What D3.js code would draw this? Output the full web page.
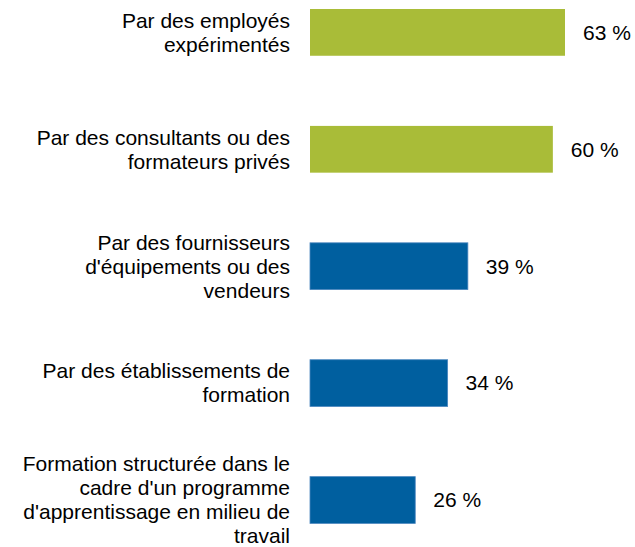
<!DOCTYPE html>
<html>
<head>
<meta charset="utf-8">
<script src="https://cdn.jsdelivr.net/npm/d3@7"></script>
<style>
  html, body { margin: 0; padding: 0; background: #fff; }
  svg { display: block; }
  text { font-family: "Liberation Sans", Arial, sans-serif; fill: #000; }
</style>
</head>
<body>
<svg id="chart" width="635" height="547"></svg>
<script>
// Training sources, each label split into its display lines
const categories = [
  ["Par des employés", "expérimentés"],
  ["Par des consultants ou des", "formateurs privés"],
  ["Par des fournisseurs", "d'équipements ou des", "vendeurs"],
  ["Par des établissements de", "formation"],
  ["Formation structurée dans le", "cadre d'un programme", "d'apprentissage en milieu de", "travail"]
];
const values = [63, 60, 39, 34, 26];
const colors = ["#a9bc38", "#a9bc38", "#005f9f", "#005f9f", "#005f9f"];

const svg = d3.select("#chart");
const keys = categories.map((c, i) => i);

const x = d3.scaleLinear().domain([0, 63]).range([310, 565]);
const y = d3.scaleBand().domain(keys).range([0, 532.4]).paddingInner(0.6).paddingOuter(0.077);

const fontSize = 21;
const lineH = 24;

const rows = svg.selectAll("g.row").data(keys).join("g").attr("class", "row");

rows.append("rect")
  .attr("x", x(0))
  .attr("y", i => y(i))
  .attr("width", i => x(values[i]) - x(0))
  .attr("height", y.bandwidth())
  .attr("fill", i => colors[i])
  .attr("stroke", i => i < 2 ? "none" : "#4a86bf")
  .attr("stroke-width", 0.8);

rows.append("text")
  .attr("x", i => x(values[i]) + 18)
  .attr("y", i => y(i) + y.bandwidth() / 2)
  .attr("dy", "0.35em")
  .attr("font-size", fontSize)
  .text(i => values[i] + " %");

rows.append("text")
  .attr("text-anchor", "end")
  .attr("font-size", fontSize)
  .each(function(i) {
    const lines = categories[i];
    const cy = y(i) + y.bandwidth() / 2;
    const top = cy - (lines.length - 1) * lineH / 2;
    d3.select(this).selectAll("tspan").data(lines).join("tspan")
      .attr("x", 290)
      .attr("y", (d, k) => top + k * lineH)
      .attr("dy", "0.35em")
      .text(d => d);
  });
</script>
</body>
</html>
